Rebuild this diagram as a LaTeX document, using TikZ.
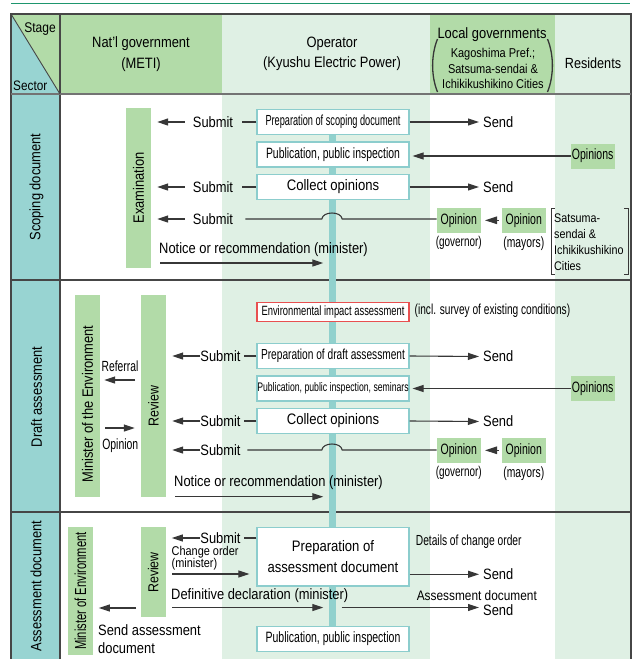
\documentclass[tikz,border=0pt]{standalone}
\usepackage{fontspec}
\setmainfont{Liberation Sans}[FakeStretch=0.86]
\newfontfamily\cf{Liberation Sans}[FakeStretch=0.70]
\newfontfamily\cff{Liberation Sans}[FakeStretch=0.63]
\usetikzlibrary{arrows.meta,calc}
\newcommand\fsz[2]{\fontsize{#1pt}{#2pt}\selectfont}
\definecolor{ggreen}{RGB}{178,219,168}
\definecolor{lgreen}{RGB}{223,240,228}
\definecolor{sect}{RGB}{152,212,210}
\definecolor{tealbar}{RGB}{145,209,205}
\definecolor{boxedge}{RGB}{140,205,205}
\definecolor{redc}{RGB}{232,80,80}
\definecolor{linec}{RGB}{55,55,55}
\definecolor{framec}{RGB}{70,70,70}
\definecolor{hdrc}{RGB}{115,115,115}
\definecolor{topc}{RGB}{30,150,110}
\begin{document}
\begin{tikzpicture}[x=1pt,y=-1pt,
  txt/.style={inner sep=0pt, text=black, font=\fsz{15}{17}},
  wbox/.style={draw=boxedge, line width=1.2pt, fill=white, minimum width=152pt, minimum height=25pt, inner sep=0pt},
  gbox/.style={fill=ggreen, inner sep=0pt},
  obox/.style={fill=ggreen, inner sep=0pt, minimum width=44pt, minimum height=25pt, font=\cf\fsz{15}{17}},
  arr/.style={draw=linec, line width=1.1pt, -{Triangle[length=11pt,width=7pt]}},
  ln/.style={draw=linec, line width=1.1pt},
  tblframe/.style={draw=framec, line width=2pt},
  rowline/.style={draw=framec, line width=1.2pt},
]
\useasboundingbox (0,0) rectangle (634,659);
% backgrounds
\fill[white] (0,0) rectangle (634,659);
\fill[lgreen] (222,14) rectangle (430,659);
\fill[lgreen] (555,14) rectangle (631,659);
\fill[ggreen] (60,14) rectangle (222,94);
\fill[ggreen] (430,14) rectangle (555,94);
\fill[sect] (11,94) rectangle (60,659);
\fill[ggreen] (11,14) -- (60,14) -- (60,94) -- cycle;
\fill[sect] (11,14) -- (11,94) -- (60,94) -- cycle;
% lines
\draw[draw=topc, line width=1.2pt] (11,3.3) -- (630,3.3);
\draw[tblframe] (11,659) -- (11,14) -- (631,14) -- (631,659);
\draw[tblframe] (60,14) -- (60,659);
\draw[draw=hdrc, line width=2pt] (11,94) -- (631,94);
\draw[rowline] (11,280) -- (631,280);
\draw[rowline] (11,512) -- (631,512);
\draw[draw=framec, line width=0.9pt] (11,14) -- (60,94);
% header
\node[txt, font=\fsz{14}{16}, anchor=base east] (stage) at (56,32) {Stage};
\node[txt, font=\fsz{13.7}{16}, anchor=base west] (sector) at (13,90) {Sector};
\node[txt, align=center, font=\fsz{15}{20.5}] (natl) at (141,54) {Nat'l government\\(METI)};
\node[txt, align=center, font=\fsz{15}{20.5}] (oper) at (332,54) {Operator\\(Kyushu Electric Power)};
\node[txt] (localg) at (492,34.5) {Local governments};
\node[txt, align=center, font=\fsz{12.8}{15.8}] (localsub) at (493,68.5) {Kagoshima Pref.;\\Satsuma-sendai \&\\Ichikikushikino Cities};
\draw[draw=linec, line width=1.3pt] (437.5,39) .. controls (431,55) and (431,76) .. (437.5,92);
\draw[draw=linec, line width=1.3pt] (547.5,39) .. controls (554,55) and (554,76) .. (547.5,92);
\node[txt, font=\fsz{14.7}{17}] (resid) at (593,63.5) {Residents};
% central bar
\node[fill=tealbar, minimum width=7pt, minimum height=511pt, inner sep=0pt, anchor=north] (bar) at (332,115) {};
% ===== Scoping =====
\node[txt, rotate=90] (sc1) at (36.5,187) {Scoping document};
\node[gbox, minimum width=25pt, minimum height=160pt] (exam) at (138.5,188) {};
\node[txt, rotate=90] (examt) at (exam.center) {Examination};
\node[wbox, font=\cff\fsz{14.6}{16}] (p1) at (333,122) {Preparation of scoping document};
\node[wbox, font=\cf\fsz{14.9}{17}] (p2) at (333,154.5) {Publication, public inspection};
\node[wbox, font=\fsz{15.2}{17}] (p3) at (333,187) {Collect opinions};
\node[txt] (s1) at (213,122) {Submit};
\node[txt] (s2) at (213,187) {Submit};
\node[txt] (s3) at (213,219) {Submit};
\draw[arr, shorten <=8pt, shorten >=6pt] (s1.west) -- (s1.west -| exam.east);
\draw[arr, shorten <=8pt, shorten >=6pt] (s2.west) -- (s2.west -| exam.east);
\draw[arr, shorten <=8pt, shorten >=6pt] (s3.west) -- (s3.west -| exam.east);
\draw[ln, shorten >=9pt] (p1.west) -- (s1.east);
\draw[ln, shorten >=9pt] (p3.west) -- (s2.east);
\node[txt, anchor=west] (d1) at (483,122) {Send};
\node[txt, anchor=west] (d2) at (483,187) {Send};
\draw[arr, shorten >=4pt] (p1.east) -- (d1.west);
\draw[arr, shorten >=4pt] (p3.east) -- (d2.west);
\node[obox] (ops1) at (592.7,156) {Opinions};
\draw[arr, shorten >=3pt] (ops1.west) -- (ops1.west -| p2.east);
\node[obox] (gov1) at (458.8,220.3) {Opinion};
\node[obox] (may1) at (523.8,220.3) {Opinion};
\node[txt, font=\cf\fsz{14.2}{16}] (gov1l) at (458.8,243.3) {(governor)};
\node[txt, font=\cf\fsz{14.8}{16}] (may1l) at (523.8,243.3) {(mayors)};
\draw[arr, -{Triangle[length=12pt,width=7.5pt]}, shorten <=3pt, shorten >=4pt] (may1.west) -- (gov1.east);
\draw[ln] (gov1.west |- s3.east) -- ($(bar.east |- s3.east)+(6.5,0)$) .. controls +(-1,-8) and +(1,-8) .. ($(bar.west |- s3.east)+(-6.5,0)$) -- ($(s3.east)+(12,0)$);
\draw[draw=linec, line width=1pt] (555,208) -| (551,274) -- (555,274);
\draw[draw=linec, line width=1pt] (624,208) -| (628,274) -- (624,274);
\node[txt, align=left, anchor=north west, font=\fsz{12.5}{15.7}] (bkt) at (554,214) {Satsuma-\\sendai \&\\Ichikikushikino\\Cities};
\node[txt, anchor=west] (nt1) at (159,250) {Notice or recommendation (minister)};
\coordinate (nt1a) at (160,263);
\draw[arr, shorten >=5pt] (nt1a) -- (nt1a -| bar.west);
% ===== Draft =====
\node[txt, rotate=90] (sc2) at (36.5,397) {Draft assessment};
\node[gbox, minimum width=25pt, minimum height=202pt] (mine) at (87.5,396) {};
\node[txt, rotate=90] (minet) at (87.5,404) {Minister of the Environment};
\node[gbox, minimum width=25pt, minimum height=202pt] (rev1) at (153.5,396) {};
\node[txt, rotate=90, font=\fsz{14.4}{16}] (rev1t) at (153.5,406) {Review};
\node[txt, font=\cf\fsz{14.7}{16}] (refl) at (120,366) {Referral};
\coordinate (rf) at (135,380);
\draw[arr, shorten >=4pt] (rf) -- (rf -| mine.east);
\node[txt, font=\cf\fsz{14.9}{16}] (opl) at (120.3,446) {Opinion};
\coordinate (oa) at (105,428);
\draw[arr, shorten >=6pt] (oa) -- (oa -| rev1.west);
\node[wbox, draw=redc, minimum height=19pt, font=\cf\fsz{13.4}{15}] (env) at (333,312) {Environmental impact assessment};
\node[txt, font=\cf\fsz{14.5}{16}, anchor=west] (incl) at (414.5,311) {(incl. survey of existing conditions)};
\node[wbox, font=\cf\fsz{14.5}{16}] (pd1) at (333,356) {Preparation of draft assessment};
\node[wbox, font=\cf\fsz{12.4}{14}] (pd2) at (333,388.5) {Publication, public inspection, seminars};
\node[wbox, font=\fsz{15.2}{17}] (pd3) at (333,421) {Collect opinions};
\node[txt] (sd1) at (220.5,356) {Submit};
\node[txt] (sd2) at (220.5,421) {Submit};
\node[txt] (sd3) at (220.5,450) {Submit};
\draw[arr, shorten >=6pt] (sd1.west) -- (sd1.west -| rev1.east);
\draw[arr, shorten >=6pt] (sd2.west) -- (sd2.west -| rev1.east);
\draw[arr, shorten >=6pt] (sd3.west) -- (sd3.west -| rev1.east);
\draw[ln, shorten >=3.5pt] (pd1.west) -- (sd1.east);
\draw[ln, shorten >=3.5pt] (pd3.west) -- (sd2.east);
\node[txt, anchor=west] (dd1) at (483,356.5) {Send};
\node[txt, anchor=west] (dd2) at (483,421.5) {Send};
\draw[arr, shorten >=4pt] (pd1.east) -- (dd1.west);
\draw[arr, shorten >=4pt] (pd3.east) -- (dd2.west);
\node[obox] (ops2) at (592.7,388.5) {Opinions};
\draw[arr, shorten >=3pt] (ops2.west) -- (pd2.east);
\node[obox] (gov2) at (458.8,450.3) {Opinion};
\node[obox] (may2) at (523.8,450.3) {Opinion};
\node[txt, font=\cf\fsz{14.2}{16}] (gov2l) at (458.8,473.3) {(governor)};
\node[txt, font=\cf\fsz{14.8}{16}] (may2l) at (523.8,473.3) {(mayors)};
\draw[arr, -{Triangle[length=12pt,width=7.5pt]}, shorten <=3pt, shorten >=4pt] (may2.west) -- (gov2.east);
\draw[ln] (gov2.west |- sd3.east) -- ($(bar.east |- sd3.east)+(6.5,0)$) .. controls +(-1,-8) and +(1,-8) .. ($(bar.west |- sd3.east)+(-6.5,0)$) -- ($(sd3.east)+(6.5,0)$);
\node[txt, anchor=west] (nt2) at (174,483) {Notice or recommendation (minister)};
\coordinate (nt2a) at (175,496.7);
\draw[arr, shorten >=5pt] (nt2a) -- (nt2a -| bar.west);
% ===== Assessment document =====
\node[txt, rotate=90] (sc3) at (36,586) {Assessment document};
\node[gbox, minimum width=24.7pt, minimum height=128pt] (mine2) at (80.3,591) {};
\node[txt, rotate=90, font=\cf\fsz{16}{17}] (mine2t) at (80.3,591) {Minister of Environment};
\node[gbox, minimum width=24.7pt, minimum height=89.7pt] (rev2) at (153.3,571.8) {};
\node[txt, rotate=90, font=\fsz{14.4}{16}] (rev2t) at (153.3,572.5) {Review};
\coordinate (sa0) at (136,608);
\draw[arr, shorten >=6pt] (sa0) -- (sa0 -| mine2.east);
\node[txt, align=left, anchor=north west, font=\fsz{15}{18.3}] (sad) at (98,624) {Send assessment\\document};
\node[wbox, minimum height=58.3pt, align=center, font=\fsz{15.2}{21}] (pa1) at (333,556.8) {Preparation of\\assessment document};
\node[wbox, font=\cf\fsz{15}{17}] (pa2) at (333,638.7) {Publication, public inspection};
\node[txt] (sa) at (220.5,538) {Submit};
\draw[arr, shorten >=6pt] (sa.west) -- (sa.west -| rev2.east);
\draw[ln, shorten >=3.5pt] (sa.east -| pa1.west) -- (sa.east);
\node[txt, align=left, anchor=north west, font=\fsz{12.7}{12}] (cho) at (171.5,546.5) {Change order\\(minister)};
\coordinate (coa) at (172,574);
\draw[arr, shorten >=7pt] (coa) -- (coa -| pa1.west);
\node[txt, anchor=west] (defn) at (171,596) {Definitive declaration (minister)};
\coordinate (dfa) at (172,607.5);
\draw[arr, shorten >=5pt] (dfa) -- (dfa -| bar.west);
\node[txt, anchor=west] (sn1) at (483,574.3) {Send};
\node[txt, anchor=west] (sn2) at (483,610.3) {Send};
\draw[arr, shorten >=4pt] (pa1.east |- sn1.west) -- (sn1.west);
\coordinate (dfb) at ($(bar.east |- dfa)+(6,0)$);
\draw[arr, shorten >=4pt] (dfb) -- (dfb -| sn2.west);
\node[txt, font=\cf\fsz{14.6}{16}, anchor=west] (det) at (415.7,541.5) {Details of change order};
\node[txt, font=\fsz{13.8}{16}] (asd) at (476.8,595.5) {Assessment document};
\end{tikzpicture}
\end{document}
